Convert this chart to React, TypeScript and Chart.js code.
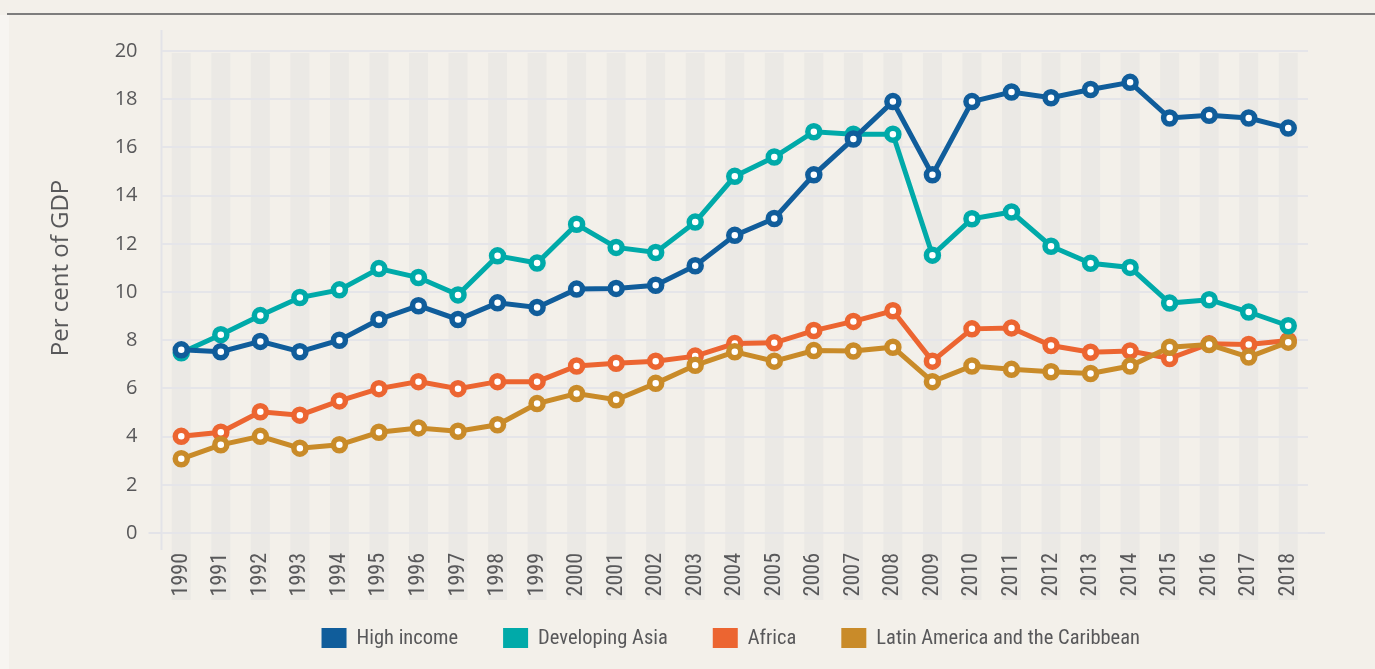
import React, { useEffect, useRef } from "react";
import { Chart, registerables } from "chart.js";

Chart.register(...registerables);

const years = [
  "1990", "1991", "1992", "1993", "1994", "1995", "1996", "1997", "1998", "1999",
  "2000", "2001", "2002", "2003", "2004", "2005", "2006", "2007", "2008", "2009",
  "2010", "2011", "2012", "2013", "2014", "2015", "2016", "2017", "2018",
];

const highIncome = [
  7.6, 7.52, 7.95, 7.52, 8.0, 8.86, 9.43, 8.86, 9.55, 9.36,
  10.12, 10.15, 10.28, 11.09, 12.35, 13.05, 14.86, 16.35, 17.9, 14.86,
  17.9, 18.3, 18.06, 18.4, 18.7, 17.22, 17.33, 17.22, 16.8,
];
const developingAsia = [
  7.48, 8.23, 9.02, 9.77, 10.09, 10.97, 10.6, 9.88, 11.5, 11.2,
  12.81, 11.85, 11.64, 12.9, 14.8, 15.6, 16.65, 16.55, 16.55, 11.53,
  13.04, 13.32, 11.9, 11.19, 11.02, 9.54, 9.68, 9.17, 8.6,
];
const africa = [
  4.01, 4.18, 5.03, 4.89, 5.48, 5.99, 6.28, 5.99, 6.28, 6.28,
  6.93, 7.04, 7.13, 7.34, 7.86, 7.89, 8.4, 8.78, 9.22, 7.13,
  8.47, 8.51, 7.78, 7.5, 7.55, 7.24, 7.85, 7.82, 7.99,
];
const latinAmerica = [
  3.08, 3.66, 4.01, 3.52, 3.66, 4.18, 4.36, 4.22, 4.49, 5.37,
  5.79, 5.53, 6.21, 6.96, 7.52, 7.13, 7.57, 7.55, 7.71, 6.28,
  6.93, 6.79, 6.69, 6.62, 6.93, 7.71, 7.82, 7.3, 7.92,
];

const seriesNames = ["High income", "Developing Asia", "Africa", "Latin America and the Caribbean"];
const seriesColors = ["#105d9b", "#00aaa9", "#ec6531", "#c98b29"];
const seriesValues = [highIncome, developingAsia, africa, latinAmerica];
const drawOrder = [0, 1, 3, 2];

const yTitle = "Per cent of GDP";
const NARROW = "'Liberation Sans Narrow', 'Roboto Condensed', 'DejaVu Sans Condensed', sans-serif";
const TEXT = "#58585a";

const decorPlugin = {
  id: "decor",
  beforeDraw(chart: any) {
    const { ctx, chartArea, scales } = chart;
    const x = scales.x;
    const step = x.getPixelForValue(1) - x.getPixelForValue(0);
    const bw = step * 0.48;
    ctx.save();
    ctx.fillStyle = "#ebe9e5";
    years.forEach((_, i) => {
      const px = x.getPixelForValue(i);
      ctx.fillRect(px - bw / 2, chartArea.top + 2, bw, chartArea.bottom + 67 - chartArea.top - 2);
    });
    ctx.strokeStyle = "#e3e3e8";
    ctx.lineWidth = 2;
    ctx.beginPath();
    ctx.moveTo(chartArea.left, chartArea.top - 21);
    ctx.lineTo(chartArea.left, chartArea.bottom + 17);
    ctx.moveTo(chartArea.left - 13, chartArea.bottom);
    ctx.lineTo(chartArea.right + 17, chartArea.bottom);
    ctx.stroke();

    ctx.translate(52, 253);
    ctx.rotate(-Math.PI / 2);
    ctx.fillStyle = TEXT;
    ctx.font = "24px 'Open Sans', sans-serif";
    ctx.textAlign = "center";
    ctx.textBaseline = "middle";
    ctx.fillText(yTitle, 0, 0);
    ctx.restore();
  },
  afterDraw(chart: any) {
    const { ctx, chartArea } = chart;
    ctx.save();
    ctx.font = `20.5px ${NARROW}`;
    ctx.textBaseline = "middle";
    ctx.textAlign = "left";
    const boxW = 25;
    const boxH = 20;
    const gapText = 10;
    const gapItem = 45;
    const widths = seriesNames.map((n) => ctx.measureText(n).width);
    const total =
      widths.reduce((a, b) => a + b, 0) + seriesNames.length * (boxW + gapText) + (seriesNames.length - 1) * gapItem;
    const center = (chartArea.left + chartArea.right) / 2 - 4;
    let cx = center - total / 2;
    const cy = 623;
    seriesNames.forEach((n, i) => {
      ctx.fillStyle = seriesColors[i];
      ctx.fillRect(cx, cy - boxH / 2, boxW, boxH);
      ctx.fillStyle = TEXT;
      ctx.fillText(n, cx + boxW + gapText, cy + 1);
      cx += boxW + gapText + widths[i] + gapItem;
    });
    ctx.restore();
  },
};

export default function App() {
  const ref = useRef<HTMLCanvasElement>(null);

  useEffect(() => {
    if (!ref.current) return;
    const chart = new Chart(ref.current, {
      type: "line",
      data: {
        labels: years,
        datasets: seriesNames.map((name, i) => ({
          label: name,
          data: seriesValues[i],
          borderColor: seriesColors[i],
          backgroundColor: seriesColors[i],
          borderWidth: 5,
          pointRadius: 6,
          pointBorderWidth: 5.5,
          pointBackgroundColor: "#ffffff",
          pointBorderColor: seriesColors[i],
          tension: 0,
          order: drawOrder[i],
        })),
      },
      options: {
        responsive: false,
        animation: false,
        layout: { padding: { top: 33, right: 67, bottom: 0, left: 0 } },
        plugins: {
          legend: { display: false },
          tooltip: { enabled: false },
          title: { display: false },
        },
        scales: {
          x: {
            offset: true,
            border: { display: false },
            grid: { display: false, drawTicks: false },
            ticks: {
              color: TEXT,
              font: { family: NARROW, size: 22 },
              minRotation: 90,
              maxRotation: 90,
              padding: 20,
              autoSkip: false,
            },
            afterFit: (scale: any) => {
              scale.height = 136;
            },
          },
          y: {
            min: 0,
            max: 20,
            border: { display: false },
            grid: { color: "#e5e5e9", lineWidth: 2, drawTicks: false },
            ticks: {
              stepSize: 2,
              color: TEXT,
              font: { family: "'Open Sans', sans-serif", size: 20 },
              padding: 24,
            },
            afterFit: (scale: any) => {
              scale.width = 152.5;
            },
          },
        },
      },
      plugins: [decorPlugin],
    });
    return () => chart.destroy();
  }, []);

  return (
    <div
      style={{
        position: "absolute",
        left: 0,
        top: 0,
        width: 1375,
        height: 669,
        background: "#f3f0ea",
        overflow: "hidden",
      }}
    >
      <div style={{ position: "absolute", left: 0, top: 15, width: 9, height: 654, background: "#f7f5f1" }} />
      <div style={{ position: "absolute", left: 7, top: 13, right: 0, height: 2, background: "#7d7d7d" }} />
      <div style={{ position: "absolute", left: 9, top: 15, width: 1366, height: 654 }}>
        <canvas ref={ref} width={1366} height={654} style={{ display: "block" }} />
      </div>
    </div>
  );
}
